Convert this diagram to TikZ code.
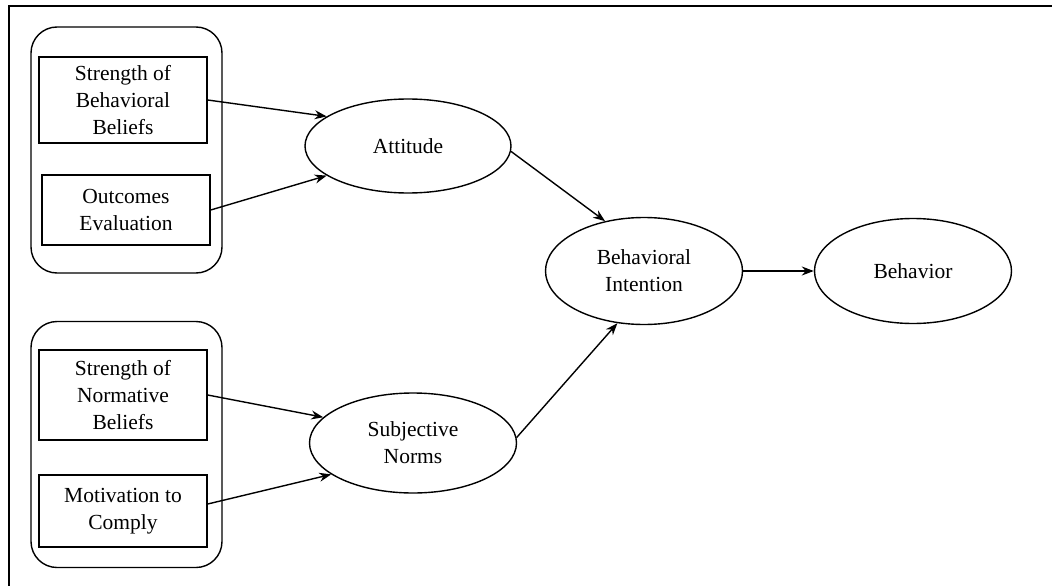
\documentclass[tikz,border=0pt]{standalone}
\usepackage{fontspec}
\setmainfont{Liberation Serif}
\usetikzlibrary{shapes.geometric,arrows.meta}
\begin{document}
\begin{tikzpicture}[x=1pt,y=-1pt,
  every node/.style={font=\fontsize{21.5}{27}\selectfont, align=center, inner sep=0pt},
  grp/.style={draw, line width=1.4pt, rounded corners=26pt, minimum width=191pt, minimum height=246pt},
  fbox/.style={draw, line width=1.4pt, minimum width=168pt},
  oval/.style={draw, ellipse, line width=1.4pt},
  conn/.style={draw, line width=1.4pt, -{Stealth[length=12pt,width=9pt]}},
  frame/.style={draw, line width=2pt}]
\useasboundingbox (0,0) rectangle (1052,586);
% frame
\coordinate (fTL) at (9,6);
\coordinate (fTR) at (1052,6);
\coordinate (fBL) at (9,586);
\draw[frame] (fTR) -- (fTL) -- (fBL);
% groups
\node[grp] (grpA) at (126.5,150) {};
\node[grp] (grpB) at (126.5,444.5) {};
% boxes
\node[fbox, minimum height=86pt] (sbb) at (123,100) {Strength of\\Behavioral\\Beliefs};
\node[fbox, minimum height=70pt] (oe) at (126,210) {Outcomes\\Evaluation};
\node[fbox, minimum height=90pt] (snb) at (123,395) {Strength of\\Normative\\Beliefs};
\node[fbox, minimum height=72pt] (mc) at (123,511) {Motivation to\\Comply};
% ellipses
\node[oval, minimum width=206pt, minimum height=94pt] (att) at (408,146) {Attitude};
\node[oval, minimum width=207pt, minimum height=100pt] (sn) at (413,443) {Subjective\\Norms};
\node[oval, minimum width=197pt, minimum height=107pt] (bi) at (644,271) {Behavioral\\Intention};
\node[oval, minimum width=197pt, minimum height=105pt] (beh) at (913,271) {Behavior};
% connectors
\draw[conn] (sbb.east) -- (att.160);
\draw[conn] (oe.east) -- (att.200);
\draw[conn] (att.-3) -- (bi.128);
\draw[conn] (snb.east) -- (sn.164);
\draw[conn] ([yshift=7pt]mc.east) -- (sn.201);
\draw[conn] (sn.3) -- (bi.243);
\draw[conn] (bi.east) -- (beh.west);
\end{tikzpicture}
\end{document}
